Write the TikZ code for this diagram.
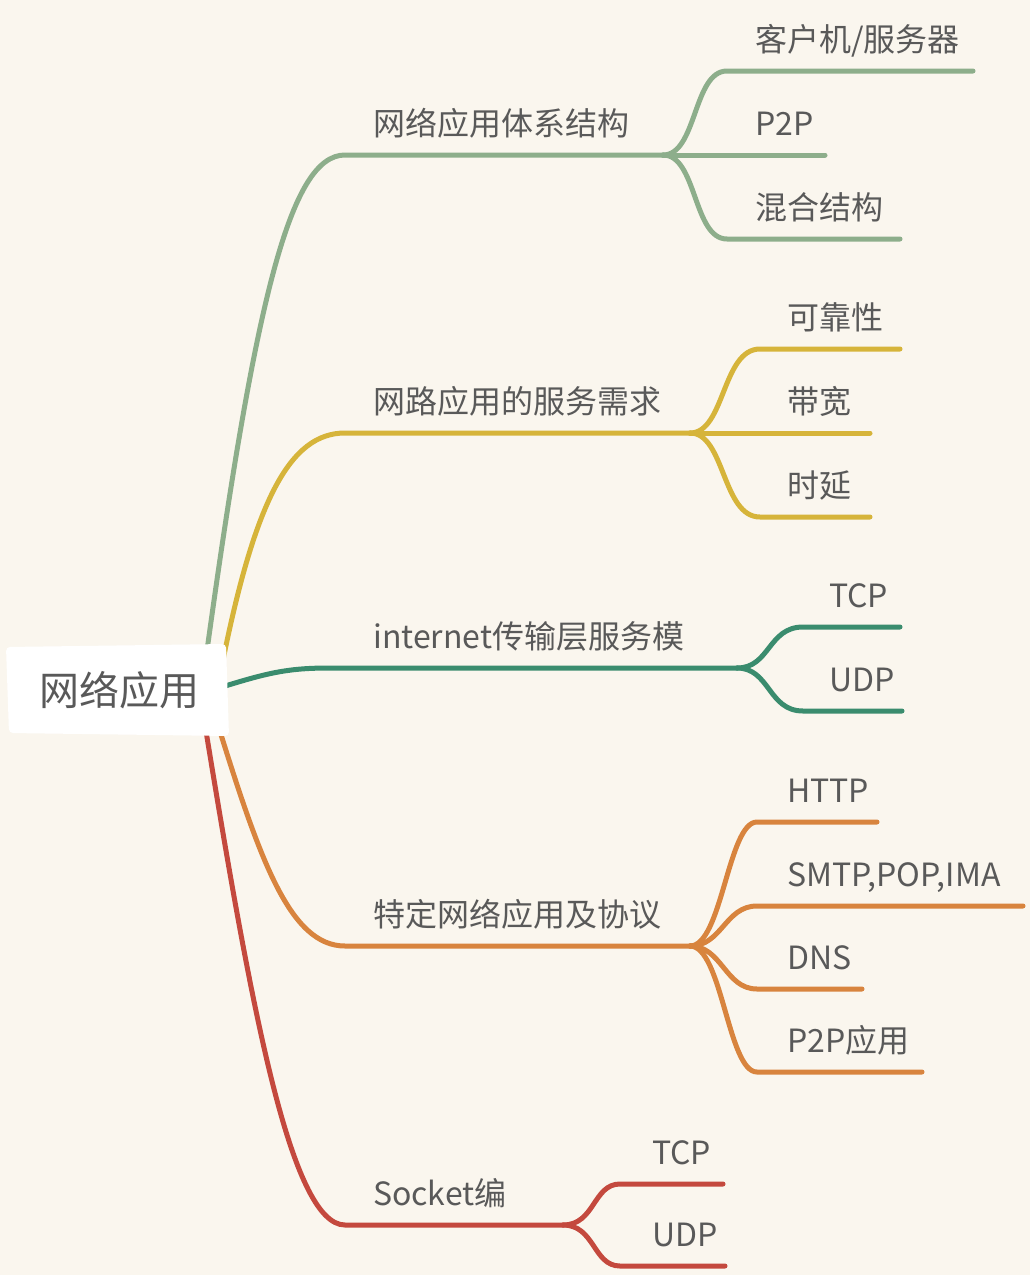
\documentclass[tikz,border=0pt]{standalone}
\usepackage{fontspec}
\setmainfont{Noto Sans CJK SC}
\definecolor{bg}{HTML}{FAF6EE}
\definecolor{txt}{HTML}{595959}
\definecolor{cgreen}{HTML}{8DAE8B}
\definecolor{cyellow}{HTML}{D6B43A}
\definecolor{cteal}{HTML}{3A8C6E}
\definecolor{corange}{HTML}{D8843E}
\definecolor{cred}{HTML}{C4493E}
\begin{document}
\begin{tikzpicture}[x=1pt,y=-1pt,
  br/.style={line width=5pt, line cap=round},
  lbl/.style={anchor=base west, inner sep=0pt, text=txt, font=\fontsize{32}{32}\selectfont}]
\fill[bg] (0,0) rectangle (1030,1275);
\useasboundingbox (0,0) rectangle (1030,1275);

% coordinates
\coordinate (gS) at (205,665);
\coordinate (gL) at (345,155);
\coordinate (gJ) at (663,155);
\coordinate (yS) at (222,665);
\coordinate (yL) at (345,433);
\coordinate (yJ) at (690,433);
\coordinate (tS) at (222,687);
\coordinate (tL) at (330,668);
\coordinate (tJ) at (737,668);
\coordinate (oS) at (218,725);
\coordinate (oL) at (345,946);
\coordinate (oJ) at (690,946);
\coordinate (rS) at (205,725);
\coordinate (rL) at (345,1225);
\coordinate (rJ) at (563,1225);

% green branch
\draw[br,cgreen] (gS) .. controls (255,300) and (290,155) .. (gL) -- (gJ);
\coordinate (g1) at (727,71);  \coordinate (g1e) at (973,71);
\coordinate (g2e) at (825,155);
\coordinate (g3) at (727,239); \coordinate (g3e) at (900,239);
\draw[br,cgreen] (gJ) .. controls (697,155) and (693,71) .. (g1) -- (g1e);
\draw[br,cgreen] (gJ) -- (g2e);
\draw[br,cgreen] (gJ) .. controls (697,155) and (693,239) .. (g3) -- (g3e);

% yellow branch
\draw[br,cyellow] (yS) .. controls (255,500) and (290,433) .. (yL) -- (yJ);
\coordinate (y1) at (760,349); \coordinate (y1e) at (900,349);
\coordinate (y2e) at (870,433);
\coordinate (y3) at (760,517); \coordinate (y3e) at (870,517);
\draw[br,cyellow] (yJ) .. controls (725,433) and (722,349) .. (y1) -- (y1e);
\draw[br,cyellow] (yJ) -- (y2e);
\draw[br,cyellow] (yJ) .. controls (725,433) and (722,517) .. (y3) -- (y3e);

% teal branch
\draw[br,cteal] (tS) .. controls (270,672) and (290,668) .. (tL) -- (tJ);
\coordinate (t1) at (803,627); \coordinate (t1e) at (900,627);
\coordinate (t2) at (803,711); \coordinate (t2e) at (902,711);
\draw[br,cteal] (tJ) .. controls (770,668) and (768,627) .. (t1) -- (t1e);
\draw[br,cteal] (tJ) .. controls (770,668) and (768,711) .. (t2) -- (t2e);

% orange branch
\draw[br,corange] (oS) .. controls (260,860) and (290,946) .. (oL) -- (oJ);
\coordinate (o1) at (757,822);  \coordinate (o1e) at (877,822);
\coordinate (o2) at (757,906);  \coordinate (o2e) at (1023,906);
\coordinate (o3) at (757,989);  \coordinate (o3e) at (862,989);
\coordinate (o4) at (757,1072); \coordinate (o4e) at (922,1072);
\draw[br,corange] (oJ) .. controls (722,946) and (728,822) .. (o1) -- (o1e);
\draw[br,corange] (oJ) .. controls (722,946) and (725,906) .. (o2) -- (o2e);
\draw[br,corange] (oJ) .. controls (722,946) and (725,989) .. (o3) -- (o3e);
\draw[br,corange] (oJ) .. controls (722,946) and (728,1072) .. (o4) -- (o4e);

% red branch
\draw[br,cred] (rS) .. controls (250,1000) and (290,1225) .. (rL) -- (rJ);
\coordinate (r1) at (620,1184); \coordinate (r1e) at (723,1184);
\coordinate (r2) at (620,1266); \coordinate (r2e) at (725,1266);
\draw[br,cred] (rJ) .. controls (595,1225) and (593,1184) .. (r1) -- (r1e);
\draw[br,cred] (rJ) .. controls (595,1225) and (593,1266) .. (r2) -- (r2e);

% root box
\fill[white, rounded corners=4pt] (6,647) -- (226,644) -- (229,736) -- (9,733) -- cycle;
\node[anchor=base west, inner sep=0pt, text=txt, font=\fontsize{40}{40}\selectfont] (root) at (39,705) {网络应用};

% branch labels
\node[lbl] (b1) at (373,135) {网络应用体系结构};
\node[lbl] (b2) at (373,413) {网路应用的服务需求};
\node[lbl] (b3) at (373,648) {internet传输层服务模};
\node[lbl] (b4) at (373,926) {特定网络应用及协议};
\node[lbl] (b5) at (373,1205) {Socket编};

% leaf labels
\node[lbl] (l11) at (755,51) {客户机/服务器};
\node[lbl] (l12) at (755,135) {P2P};
\node[lbl] (l13) at (755,219) {混合结构};
\node[lbl] (l21) at (787,329) {可靠性};
\node[lbl] (l22) at (787,413) {带宽};
\node[lbl] (l23) at (787,497) {时延};
\node[lbl] (l31) at (829,607) {TCP};
\node[lbl] (l32) at (829,691) {UDP};
\node[lbl] (l41) at (787,802) {HTTP};
\node[lbl] (l42) at (787,886) {SMTP,POP,IMA};
\node[lbl] (l43) at (787,969) {DNS};
\node[lbl] (l44) at (787,1052) {P2P应用};
\node[lbl] (l51) at (652,1164) {TCP};
\node[lbl] (l52) at (652,1246) {UDP};
\end{tikzpicture}
\end{document}
